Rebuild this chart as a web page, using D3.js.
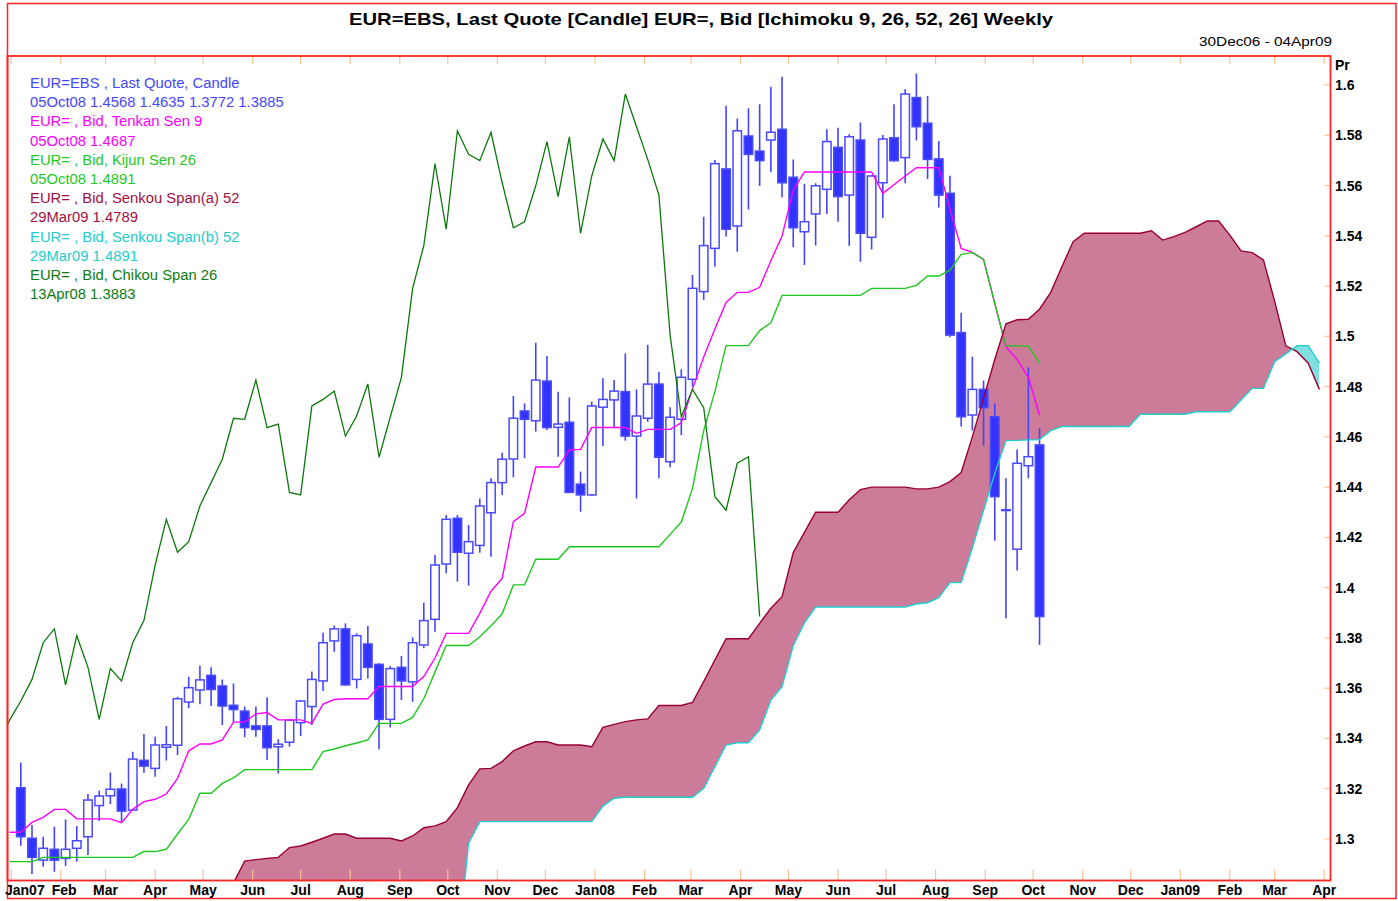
<!DOCTYPE html>
<html>
<head>
<meta charset="utf-8">
<script src="https://cdn.jsdelivr.net/npm/d3@7"></script>
<style>
    body { margin: 0; background: #fff; }
    text { font-family: "Liberation Sans", Arial, sans-serif; }
</style>
</head>
<body>
<div id="chart"></div>
<script>
// weekly candles, first one dated 07Jan07, last 05Oct08
let candleOpen = [
    1.3204, 1.3003, 1.2916, 1.2959, 1.2923, 1.2963, 1.3009, 1.3133, 1.3172, 1.3199,
    1.3115, 1.3313, 1.3281, 1.3365, 1.3373, 1.3545, 1.3593, 1.3651, 1.3609, 1.3532,
    1.3509, 1.3450, 1.3450, 1.3367, 1.3385, 1.3463, 1.3527, 1.3629, 1.3788, 1.3836,
    1.3635, 1.3776, 1.3695, 1.3476, 1.3683, 1.3625, 1.3772, 1.3874, 1.4094, 1.4276,
    1.4137, 1.4168, 1.4298, 1.4418, 1.4512, 1.4703, 1.4664, 1.4822, 1.4638, 1.4658,
    1.4412, 1.4369, 1.4718, 1.4747, 1.4780, 1.4603, 1.4674, 1.4810, 1.4501, 1.4670,
    1.4829, 1.5178, 1.5350, 1.5666, 1.5439, 1.5797, 1.5737, 1.5781, 1.5824, 1.5633,
    1.5416, 1.5487, 1.5585, 1.5752, 1.5562, 1.5781, 1.5394, 1.5611, 1.5790, 1.5711,
    1.5950, 1.5848, 1.5706, 1.5569, 1.5015, 1.4687, 1.4789, 1.4680, 1.4310, 1.4153,
    1.4485, 1.4568
]
let candleHigh = [
    1.3304, 1.3056, 1.3009, 1.3049, 1.3078, 1.3052, 1.3179, 1.3192, 1.3265, 1.3221,
    1.3347, 1.3418, 1.3407, 1.3450, 1.3566, 1.3646, 1.3690, 1.3683, 1.3635, 1.3619,
    1.3527, 1.3527, 1.3564, 1.3397, 1.3476, 1.3553, 1.3666, 1.3821, 1.3849, 1.3858,
    1.3818, 1.3847, 1.3699, 1.3688, 1.3728, 1.3802, 1.3940, 1.4130, 1.4289, 1.4289,
    1.4249, 1.4355, 1.4435, 1.4537, 1.4763, 1.4733, 1.4975, 1.4922, 1.4780, 1.4757,
    1.4462, 1.4740, 1.4833, 1.4826, 1.4932, 1.4789, 1.4966, 1.4859, 1.4718, 1.4869,
    1.5244, 1.5476, 1.5702, 1.5917, 1.5867, 1.5907, 1.5923, 1.5993, 1.6033, 1.5704,
    1.5606, 1.5609, 1.5824, 1.5830, 1.5804, 1.5851, 1.5642, 1.5801, 1.5923, 1.5983,
    1.6046, 1.5956, 1.5777, 1.5639, 1.5094, 1.4919, 1.4824, 1.4733, 1.4435, 1.4550,
    1.4877, 1.4635
]
let candleLow = [
    1.2973, 1.2861, 1.2890, 1.2870, 1.2893, 1.2910, 1.2936, 1.3072, 1.3139, 1.3065,
    1.3113, 1.3264, 1.3248, 1.3312, 1.3334, 1.3520, 1.3536, 1.3529, 1.3454, 1.3466,
    1.3405, 1.3407, 1.3314, 1.3261, 1.3367, 1.3410, 1.3454, 1.3589, 1.3745, 1.3610,
    1.3599, 1.3639, 1.3357, 1.3444, 1.3553, 1.3546, 1.3759, 1.3825, 1.4057, 1.4024,
    1.4008, 1.4139, 1.4123, 1.4369, 1.4439, 1.4515, 1.4621, 1.4627, 1.4521, 1.4378,
    1.4302, 1.4365, 1.4564, 1.4634, 1.4585, 1.4355, 1.4660, 1.4435, 1.4479, 1.4607,
    1.4800, 1.5145, 1.5277, 1.5397, 1.5337, 1.5505, 1.5598, 1.5653, 1.5553, 1.5354,
    1.5284, 1.5361, 1.5487, 1.5456, 1.5360, 1.5297, 1.5345, 1.5471, 1.5695, 1.5609,
    1.5779, 1.5626, 1.5513, 1.4996, 1.4641, 1.4625, 1.4564, 1.4187, 1.3878, 1.4068,
    1.4435, 1.3772
]
let candleClose = [
    1.3009, 1.2927, 1.2963, 1.2916, 1.2959, 1.2993, 1.3155, 1.3171, 1.3198, 1.3111,
    1.3318, 1.3290, 1.3374, 1.3375, 1.3558, 1.3602, 1.3633, 1.3595, 1.3529, 1.3515,
    1.3443, 1.3436, 1.3363, 1.3377, 1.3473, 1.3549, 1.3635, 1.3781, 1.3836, 1.3613,
    1.3809, 1.3683, 1.3476, 1.3678, 1.3629, 1.3781, 1.3869, 1.4090, 1.4272, 1.4141,
    1.4183, 1.4325, 1.4418, 1.4511, 1.4674, 1.4670, 1.4826, 1.4637, 1.4651, 1.4379,
    1.4369, 1.4723, 1.4749, 1.4782, 1.4603, 1.4683, 1.4810, 1.4519, 1.4678, 1.4837,
    1.5191, 1.5361, 1.5687, 1.5426, 1.5818, 1.5724, 1.5699, 1.5812, 1.5611, 1.5432,
    1.5456, 1.5599, 1.5775, 1.5556, 1.5794, 1.5410, 1.5638, 1.5785, 1.5699, 1.5964,
    1.5834, 1.5704, 1.5562, 1.5005, 1.4680, 1.4789, 1.4716, 1.4362, 1.4308, 1.4495,
    1.4521, 1.3885
]

// Tenkan / Kijun, weekly from 31Dec06
let tenkan = [
    1.3027, 1.3027, 1.3066, 1.3086, 1.3118, 1.3118, 1.3080, 1.3080, 1.3080, 1.3080,
    1.3065, 1.3118, 1.3149, 1.3158, 1.3179, 1.3241, 1.3351, 1.3378, 1.3378, 1.3394,
    1.3465, 1.3465, 1.3498, 1.3503, 1.3474, 1.3474, 1.3474, 1.3460, 1.3537, 1.3555,
    1.3558, 1.3558, 1.3558, 1.3607, 1.3607, 1.3607, 1.3607, 1.3646, 1.3720, 1.3818,
    1.3818, 1.3818, 1.3898, 1.3986, 1.4037, 1.4263, 1.4296, 1.4480, 1.4480, 1.4480,
    1.4548, 1.4550, 1.4637, 1.4637, 1.4637, 1.4637, 1.4614, 1.4630, 1.4630, 1.4630,
    1.4656, 1.4790, 1.4918, 1.5029, 1.5135, 1.5175, 1.5175, 1.5195, 1.5301, 1.5399,
    1.5582, 1.5654, 1.5654, 1.5654, 1.5654, 1.5654, 1.5654, 1.5654, 1.5569, 1.5603,
    1.5638, 1.5671, 1.5671, 1.5671, 1.5507, 1.5350, 1.5334, 1.5306, 1.5131, 1.4959,
    1.4908, 1.4837, 1.4687
]
let kijun = [
    1.2910, 1.2910, 1.2910, 1.2927, 1.2927, 1.2927, 1.2927, 1.2927, 1.2927, 1.2927,
    1.2927, 1.2927, 1.2950, 1.2950, 1.2959, 1.3020, 1.3078, 1.3182, 1.3182, 1.3221,
    1.3243, 1.3276, 1.3276, 1.3276, 1.3276, 1.3276, 1.3276, 1.3276, 1.3348, 1.3358,
    1.3371, 1.3382, 1.3394, 1.3460, 1.3460, 1.3460, 1.3484, 1.3558, 1.3665, 1.3770,
    1.3770, 1.3770, 1.3805, 1.3848, 1.3896, 1.4011, 1.4011, 1.4113, 1.4113, 1.4113,
    1.4163, 1.4163, 1.4163, 1.4163, 1.4163, 1.4163, 1.4163, 1.4163, 1.4163, 1.4212,
    1.4261, 1.4395, 1.4625, 1.4780, 1.4963, 1.4963, 1.4963, 1.5023, 1.5054, 1.5163,
    1.5163, 1.5163, 1.5163, 1.5163, 1.5163, 1.5163, 1.5163, 1.5191, 1.5191, 1.5191,
    1.5191, 1.5203, 1.5240, 1.5240, 1.5263, 1.5326, 1.5333, 1.5306, 1.5131, 1.4962,
    1.4962, 1.4962, 1.4893
]

// Senkou spans, weekly from 20May07 to 29Mar09
let senkouA = [
    1.2825, 1.2912, 1.2918, 1.2923, 1.2927, 1.2966, 1.2972, 1.2987, 1.3003, 1.3020,
    1.3020, 1.3003, 1.3003, 1.3003, 1.3003, 1.2992, 1.3012, 1.3045, 1.3052, 1.3069,
    1.3125, 1.3215, 1.3279, 1.3281, 1.3308, 1.3351, 1.3370, 1.3387, 1.3387, 1.3374,
    1.3374, 1.3374, 1.3367, 1.3444, 1.3456, 1.3467, 1.3474, 1.3478, 1.3531, 1.3531,
    1.3531, 1.3543, 1.3626, 1.3712, 1.3797, 1.3797, 1.3797, 1.3858, 1.3918, 1.3964,
    1.4140, 1.4220, 1.4300, 1.4300, 1.4300, 1.4350, 1.4390, 1.4400, 1.4400, 1.4400,
    1.4400, 1.4393, 1.4393, 1.4400, 1.4422, 1.4458, 1.4600, 1.4753, 1.4908, 1.5050,
    1.5066, 1.5068, 1.5108, 1.5175, 1.5277, 1.5377, 1.5410, 1.5410, 1.5410, 1.5410,
    1.5410, 1.5410, 1.5420, 1.5383, 1.5397, 1.5414, 1.5436, 1.5459, 1.5459, 1.5403,
    1.5340, 1.5333, 1.5304, 1.5140, 1.4962, 1.4939, 1.4893, 1.4789
]
let senkouB = [
    1.2550, 1.2550, 1.2550, 1.2550, 1.2550, 1.2550, 1.2550, 1.2550, 1.2550, 1.2550,
    1.2550, 1.2550, 1.2550, 1.2550, 1.2550, 1.2550, 1.2550, 1.2550, 1.2550, 1.2550,
    1.2550, 1.2983, 1.3069, 1.3069, 1.3069, 1.3069, 1.3069, 1.3069, 1.3069, 1.3069,
    1.3069, 1.3069, 1.3069, 1.3131, 1.3162, 1.3166, 1.3166, 1.3166, 1.3166, 1.3166,
    1.3166, 1.3166, 1.3202, 1.3288, 1.3374, 1.3383, 1.3383, 1.3434, 1.3553, 1.3606,
    1.3770, 1.3860, 1.3923, 1.3923, 1.3923, 1.3923, 1.3923, 1.3923, 1.3923, 1.3923,
    1.3923, 1.3935, 1.3940, 1.3960, 1.4020, 1.4020, 1.4159, 1.4308, 1.4454, 1.4585,
    1.4586, 1.4588, 1.4589, 1.4625, 1.4641, 1.4641, 1.4641, 1.4641, 1.4641, 1.4641,
    1.4641, 1.4690, 1.4690, 1.4690, 1.4690, 1.4690, 1.4700, 1.4700, 1.4700, 1.4700,
    1.4747, 1.4793, 1.4793, 1.4899, 1.4930, 1.4963, 1.4963, 1.4893
]

let yTicks = [1.3, 1.32, 1.34, 1.36, 1.38, 1.4, 1.42, 1.44, 1.46, 1.48, 1.5, 1.52, 1.54, 1.56, 1.58, 1.6]
let monthLabels = ["Jan07", "Feb", "Mar", "Apr", "May", "Jun", "Jul", "Aug", "Sep", "Oct", "Nov", "Dec",
    "Jan08", "Feb", "Mar", "Apr", "May", "Jun", "Jul", "Aug", "Sep", "Oct", "Nov", "Dec",
    "Jan09", "Feb", "Mar", "Apr"]

let legendLines = [
    ["EUR=EBS , Last Quote, Candle", "#4646ff"],
    ["05Oct08 1.4568 1.4635 1.3772 1.3885", "#4646ff"],
    ["EUR= , Bid, Tenkan Sen 9", "#ff00ff"],
    ["05Oct08 1.4687", "#ff00ff"],
    ["EUR= , Bid, Kijun Sen 26", "#1ec81e"],
    ["05Oct08 1.4891", "#1ec81e"],
    ["EUR= , Bid, Senkou Span(a) 52", "#9e1040"],
    ["29Mar09 1.4789", "#9e1040"],
    ["EUR= , Bid, Senkou Span(b) 52", "#22cccc"],
    ["29Mar09 1.4891", "#22cccc"],
    ["EUR= , Bid, Chikou Span 26", "#0f7a0f"],
    ["13Apr08 1.3883", "#0f7a0f"]
]

let firstCandle = new Date(2007, 0, 7)
let firstLine = new Date(2006, 11, 31)
let firstSpan = new Date(2007, 4, 20)

let candles = candleOpen.map((o, i) => ({
    date: d3.timeWeek.offset(firstCandle, i),
    open: o, high: candleHigh[i], low: candleLow[i], close: candleClose[i]
}))
let tenkanData = tenkan.map((v, i) => ({ date: d3.timeWeek.offset(firstLine, i), v: v }))
let kijunData = kijun.map((v, i) => ({ date: d3.timeWeek.offset(firstLine, i), v: v }))
let spanData = senkouA.map((a, i) => ({ date: d3.timeWeek.offset(firstSpan, i), a: a, b: senkouB[i] }))
// chikou = the close plotted 25 weeks back
let chikouData = candles.map(d => ({ date: d3.timeWeek.offset(d.date, -25), v: d.close }))

let plotLeft = 7.5, plotRight = 1330.5, plotTop = 56, plotBottom = 880.5

let x = d3.scaleTime()
    .domain([new Date(2006, 11, 30), new Date(2009, 3, 4)])
    .range([8, 1329])
let y = d3.scaleLinear()
    .domain([1.3, 1.6])
    .range([839, 85])

let svg = d3.select('#chart')
    .append('svg')
    .attr('width', 1398)
    .attr('height', 901)

let defs = svg.append('defs')
defs.append('clipPath').attr('id', 'plotClip')
    .append('rect')
    .attr('x', plotLeft).attr('y', plotTop)
    .attr('width', plotRight - plotLeft).attr('height', plotBottom - plotTop)

let aboveA = d3.area().x(d => x(d.date)).y0(0).y1(d => y(d.a))
let aboveB = d3.area().x(d => x(d.date)).y0(0).y1(d => y(d.b))
let belowA = d3.area().x(d => x(d.date)).y0(1000).y1(d => y(d.a))
let belowB = d3.area().x(d => x(d.date)).y0(1000).y1(d => y(d.b))
defs.append('clipPath').attr('id', 'clipAboveA').append('path').attr('d', aboveA(spanData))
defs.append('clipPath').attr('id', 'clipAboveB').append('path').attr('d', aboveB(spanData))

let plot = svg.append('g').attr('clip-path', 'url(#plotClip)')

// kumo
plot.append('path')
    .attr('d', belowA(spanData))
    .attr('clip-path', 'url(#clipAboveB)')
    .attr('fill', '#cc7b99')
plot.append('path')
    .attr('d', belowB(spanData))
    .attr('clip-path', 'url(#clipAboveA)')
    .attr('fill', '#80e0e0')

// candles
let bodyW = 8.5
let cg = plot.append('g')
    .selectAll('g')
    .data(candles)
    .enter()
    .append('g')

cg.append('line')
    .attr('x1', d => x(d.date)).attr('x2', d => x(d.date))
    .attr('y1', d => y(d.high)).attr('y2', d => y(d.low))
    .attr('stroke', '#4444ff')
    .attr('stroke-width', 1.6)

cg.append('rect')
    .attr('x', d => x(d.date) - bodyW / 2)
    .attr('y', d => y(Math.max(d.open, d.close)))
    .attr('width', bodyW)
    .attr('height', d => Math.max(0.8, Math.abs(y(d.open) - y(d.close))))
    .attr('fill', d => d.close < d.open ? '#3333ff' : '#ffffff')
    .attr('stroke', '#4a4aff')
    .attr('stroke-width', 1.5)

let line = d3.line().x(d => x(d.date)).y(d => y(d.v))

plot.append('path').datum(tenkanData)
    .attr('d', line).attr('fill', 'none')
    .attr('stroke', '#ff00ff').attr('stroke-width', 1.4)

plot.append('path').datum(kijunData)
    .attr('d', line).attr('fill', 'none')
    .attr('stroke', '#1ec81e').attr('stroke-width', 1.4)

plot.append('path').datum(spanData.map(d => ({ date: d.date, v: d.a })))
    .attr('d', line).attr('fill', 'none')
    .attr('stroke', '#990033').attr('stroke-width', 1.4)

plot.append('path').datum(spanData.map(d => ({ date: d.date, v: d.b })))
    .attr('d', line).attr('fill', 'none')
    .attr('stroke', '#1fcfcf').attr('stroke-width', 1.4)

plot.append('path').datum(chikouData)
    .attr('d', line).attr('fill', 'none')
    .attr('stroke', '#0c780c').attr('stroke-width', 1.3)

// ticks
let tickColor = '#f5c49a'
let months = d3.timeMonth.range(new Date(2007, 0, 1), new Date(2009, 3, 2))
let ticks = svg.append('g')
ticks.selectAll('.bt')
    .data(months)
    .enter()
    .append('line')
    .attr('x1', d => x(d)).attr('x2', d => x(d))
    .attr('y1', plotBottom - 11).attr('y2', plotBottom)
    .attr('stroke', tickColor).attr('stroke-width', 1.2)
ticks.selectAll('.tt')
    .data(months)
    .enter()
    .append('line')
    .attr('x1', d => x(d)).attr('x2', d => x(d))
    .attr('y1', plotTop).attr('y2', plotTop + 8)
    .attr('stroke', tickColor).attr('stroke-width', 1.2)
ticks.selectAll('.rt')
    .data(yTicks)
    .enter()
    .append('line')
    .attr('x1', plotRight - 6).attr('x2', plotRight)
    .attr('y1', d => y(d)).attr('y2', d => y(d))
    .attr('stroke', tickColor).attr('stroke-width', 1.2)

// frames
svg.append('rect')
    .attr('x', plotLeft).attr('y', 3.5)
    .attr('width', 1396 - plotLeft).attr('height', 895)
    .attr('fill', 'none').attr('stroke', '#ff2424').attr('stroke-width', 1.5)
svg.append('rect')
    .attr('x', plotLeft).attr('y', plotTop)
    .attr('width', plotRight - plotLeft).attr('height', plotBottom - plotTop)
    .attr('fill', 'none').attr('stroke', '#ff2424').attr('stroke-width', 1.8)

// y axis labels
svg.append('g')
    .selectAll('text')
    .data(yTicks)
    .enter()
    .append('text')
    .attr('x', 1335)
    .attr('y', d => y(d) + 5)
    .style('font-size', '14px')
    .style('font-weight', 'bold')
    .text(d => String(+d.toFixed(2)))

svg.append('text')
    .attr('x', 1335).attr('y', 70)
    .style('font-size', '14px').style('font-weight', 'bold')
    .text('Pr')

// month labels, pushed right when they would collide
let xLab = svg.append('g')
let prevRight = -2
months.forEach((m, i) => {
    let t = xLab.append('text')
        .attr('y', 895)
        .attr('text-anchor', 'middle')
        .style('font-size', '14px')
        .style('font-weight', 'bold')
        .text(monthLabels[i])
    let w = t.node().getComputedTextLength()
    let cx = Math.max(x(m), prevRight + 7 + w / 2)
    t.attr('x', cx)
    prevRight = cx + w / 2
})

// title
svg.append('text')
    .attr('x', 701).attr('y', 25)
    .attr('text-anchor', 'middle')
    .attr('textLength', 704)
    .attr('lengthAdjust', 'spacingAndGlyphs')
    .style('font-size', '17px').style('font-weight', 'bold')
    .text('EUR=EBS, Last Quote [Candle] EUR=, Bid [Ichimoku 9, 26, 52, 26] Weekly')

svg.append('text')
    .attr('x', 1332).attr('y', 45.5)
    .attr('text-anchor', 'end')
    .attr('textLength', 133)
    .attr('lengthAdjust', 'spacingAndGlyphs')
    .style('font-size', '12.5px')
    .text('30Dec06 - 04Apr09')

// legend
let legend = svg.append('g')
legendLines.forEach((l, i) => {
    let t = legend.append('text')
        .attr('x', 30)
        .attr('y', 88 + i * 19.2)
        .attr('fill', l[1])
        .style('font-size', '14px')
        .text(l[0])
    let w = t.node().getComputedTextLength()
    t.attr('textLength', w * 1.058).attr('lengthAdjust', 'spacingAndGlyphs')
})
</script>
</body>
</html>
